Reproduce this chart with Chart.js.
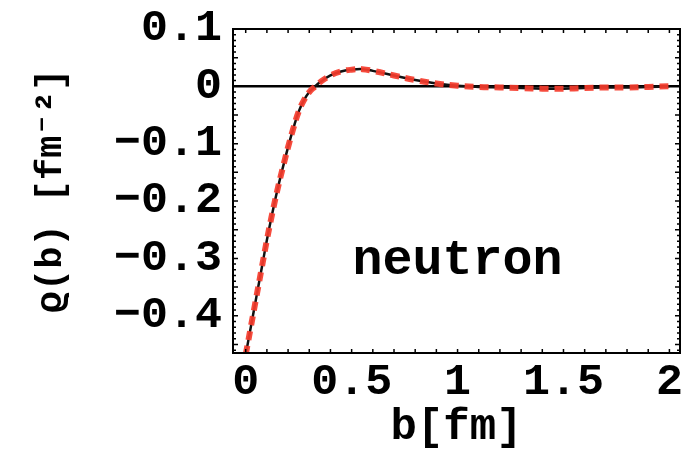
<!DOCTYPE html>
<html>
<head>
<meta charset="utf-8">
<script src="https://cdn.jsdelivr.net/npm/chart.js@4/dist/chart.umd.min.js"></script>
<style>
  html, body { margin: 0; padding: 0; background: #fff; }
  #wrap { width: 681px; height: 450px; position: relative; }
</style>
</head>
<body>
<div id="wrap"><canvas id="c" width="681" height="450"></canvas></div>
<script>
// ---- data ----
const bValues = [0, 0.025, 0.05, 0.075, 0.1, 0.125, 0.15, 0.175, 0.2, 0.225, 0.25, 0.275, 0.3, 0.325, 0.35, 0.4, 0.45, 0.5, 0.55, 0.6, 0.7, 0.8, 0.9, 1.0, 1.1, 1.2, 1.3, 1.4, 1.5, 1.6, 1.7, 1.8, 1.9, 2.0];
const rhoSolid = [-0.468, -0.418, -0.368, -0.318, -0.268, -0.222, -0.180, -0.142, -0.106, -0.073, -0.044, -0.024, -0.010, -0.001, 0.007, 0.019, 0.026, 0.029, 0.030, 0.027, 0.019, 0.011, 0.005, 0.001, -0.001, -0.002, -0.003, -0.004, -0.004, -0.003, -0.002, -0.002, -0.001, 0.000];
const rhoDashed = [-0.468, -0.418, -0.368, -0.318, -0.268, -0.222, -0.180, -0.142, -0.106, -0.073, -0.044, -0.024, -0.010, -0.001, 0.007, 0.019, 0.026, 0.029, 0.030, 0.027, 0.019, 0.011, 0.005, 0.001, -0.001, -0.002, -0.003, -0.004, -0.004, -0.003, -0.002, -0.002, -0.001, 0.000];
const xTickValues = [0, 0.5, 1, 1.5, 2];
const yTickValues = [0.1, 0, -0.1, -0.2, -0.3, -0.4];
const xTitle = 'b[fm]';
const yTitle = 'ϱ(b) [fm⁻²]';
const panelLabel = 'neutron';

const MONO = "'Liberation Mono', 'DejaVu Sans Mono', monospace";

function pts(ys) { return bValues.map((b, i) => ({ x: b, y: ys[i] })); }
function fmt(v) {
  if (Math.abs(v) < 1e-9) return '0';
  const s = String(Math.round(v * 10) / 10);
  return s.replace('-', '−');
}

const framePlugin = {
  id: 'frame',
  beforeDatasetsDraw(chart) {
    const { ctx, chartArea: a, scales } = chart;
    const py = scales.y.getPixelForValue(0);
    ctx.save();
    ctx.strokeStyle = '#000';
    ctx.lineWidth = 2.5;
    ctx.beginPath();
    ctx.moveTo(a.left, py); ctx.lineTo(a.right, py);
    ctx.stroke();
    ctx.restore();
  },
  afterDatasetsDraw(chart) {
    const { ctx, chartArea: a, scales } = chart;
    const xs = scales.x, ys = scales.y;
    ctx.save();
    ctx.strokeStyle = '#000';
    ctx.lineWidth = 1.5;
    ctx.beginPath();
    for (let k = 0; k <= 20; k++) {
      const px = xs.getPixelForValue(k / 10);
      ctx.moveTo(px, a.bottom); ctx.lineTo(px, a.bottom - 4);
      ctx.moveTo(px, a.top); ctx.lineTo(px, a.top + 4);
    }
    for (let k = -46; k <= 10; k++) {
      const py = ys.getPixelForValue(k / 100);
      const len = (k % 5 === 0) ? 5 : 3;
      ctx.moveTo(a.left, py); ctx.lineTo(a.left + len, py);
      ctx.moveTo(a.right, py); ctx.lineTo(a.right - len, py);
    }
    ctx.stroke();
    ctx.lineWidth = 2;
    ctx.strokeRect(a.left, a.top, a.right - a.left, a.bottom - a.top);
    ctx.fillStyle = '#000';
    ctx.font = "bold 50px " + MONO;
    ctx.textAlign = 'center';
    ctx.textBaseline = 'alphabetic';
    ctx.fillText(panelLabel, xs.getPixelForValue(1.0), ys.getPixelForValue(-0.328));
    ctx.restore();
  }
};

new Chart(document.getElementById('c'), {
  type: 'line',
  data: {
    datasets: [
      {
        label: 'solid',
        data: pts(rhoSolid),
        borderColor: '#111',
        borderWidth: 2.5,
        pointRadius: 0,
        tension: 0.4,
        fill: false,
        order: 2
      },
      {
        label: 'dashed',
        data: pts(rhoDashed),
        borderColor: 'rgba(245,60,45,0.92)',
        borderWidth: 6,
        borderDash: [9, 6],
        pointRadius: 0,
        tension: 0.4,
        fill: false,
        order: 1
      }
    ]
  },
  options: {
    responsive: false,
    animation: false,
    layout: { padding: { top: 29, right: 1, left: 0, bottom: 0 } },
    plugins: { legend: { display: false }, tooltip: { enabled: false } },
    scales: {
      x: {
        type: 'linear',
        min: -0.06, max: 2.05,
        afterBuildTicks(s) { s.ticks = xTickValues.map(v => ({ value: v })); },
        afterFit(s) { s.height = 97; s.paddingLeft = 0; s.paddingRight = 0; },
        grid: { display: false, drawTicks: false },
        border: { display: false },
        ticks: {
          color: '#000', padding: 3, maxRotation: 0, autoSkip: false,
          font: { family: MONO, size: 45, weight: 'bold' },
          callback: v => fmt(v)
        },
        title: {
          display: true, text: xTitle, color: '#000',
          font: { family: MONO, size: 44, weight: 'bold', lineHeight: 1 },
          padding: { top: 0, bottom: 0 }
        }
      },
      y: {
        type: 'linear',
        min: -0.465, max: 0.1,
        afterBuildTicks(s) { s.ticks = yTickValues.map(v => ({ value: v })); },
        afterFit(s) { s.width = 233; s.paddingTop = 0; s.paddingBottom = 0; },
        grid: { display: false, drawTicks: false },
        border: { display: false },
        ticks: {
          color: '#000', padding: 11, autoSkip: false,
          font: { family: MONO, size: 45, weight: 'bold' },
          callback: v => fmt(v)
        },
        title: {
          display: true, text: yTitle, color: '#000',
          font: { family: MONO, size: 37, weight: 'bold', lineHeight: 1 },
          padding: { top: 33, bottom: 0 }
        }
      }
    }
  },
  plugins: [framePlugin]
});
</script>
</body>
</html>
